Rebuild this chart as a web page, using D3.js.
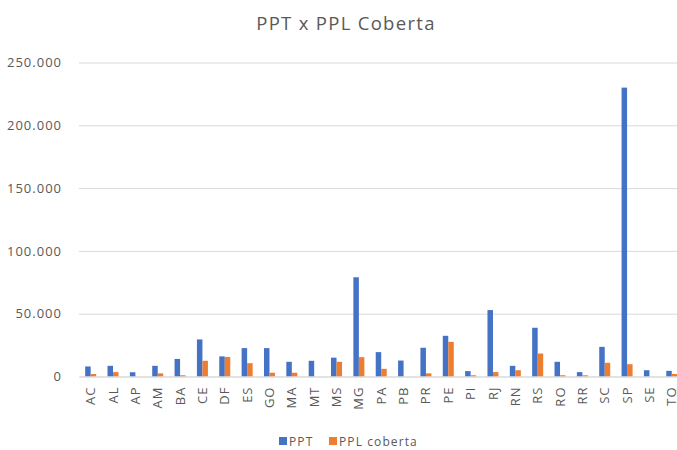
<!DOCTYPE html>
<html><head><meta charset="utf-8">
<script src="https://cdn.jsdelivr.net/npm/d3@7"></script>
<style>html,body{margin:0;padding:0;background:#fff;overflow:hidden}svg{display:block}</style>
</head><body>
<script>
const categories = ["AC","AL","AP","AM","BA","CE","DF","ES","GO","MA","MT","MS","MG","PA","PB","PR","PE","PI","RJ","RN","RS","RO","RR","SC","SP","SE","TO"];
const ppt = [8000,8500,3400,8500,14000,29500,16000,22600,22600,11700,12500,15000,79000,19400,12700,22900,32400,4300,52900,8500,38800,11700,3500,23600,230000,5000,4500];
const pplCoberta = [2000,3500,0,2500,1000,12500,15500,10600,3000,3000,0,11700,15400,6100,0,2500,27600,1000,3500,5000,18300,1000,1000,10900,9800,0,2000];
const seriesNames = ["PPT","PPL coberta"];
const yTicks = [0,50000,100000,150000,200000,250000];
const title = "PPT x PPL Coberta";

const W = 677, H = 450;
const colors = ["#4472C4","#ED7D31"];
const font = "'Open Sans', sans-serif";
const textColor = "#595959";

const svg = d3.select("body").append("svg").attr("width", W).attr("height", H);
const band = 22.35;
const x0 = d3.scaleBand().domain(categories).range([79.5, 79.5 + 27*band]).paddingInner(0).paddingOuter(0);
const x1 = d3.scaleBand().domain(seriesNames).range([x0.bandwidth()/2 - 5.5, x0.bandwidth()/2 + 5.5]);
const y = d3.scaleLinear().domain([0, 250000]).range([376.5, 62.5]);
const loc = d3.formatLocale({decimal:",", thousands:".", grouping:[3], currency:["R$",""]});
const fmt = loc.format(",");

svg.append("text").attr("x", 346).attr("y", 30).attr("text-anchor","middle")
  .attr("font-family", font).attr("font-size", 18.5).attr("letter-spacing", 1.3).attr("fill", textColor).text(title);

// grid
const yAxis = d3.axisLeft(y).tickValues(yTicks).tickSize(-(W - 79)).tickFormat(fmt).tickPadding(17);
const gy = svg.append("g").attr("transform","translate(79,0)").call(yAxis);
gy.select(".domain").remove();
gy.selectAll(".tick line").attr("stroke","#d9d9d9").attr("stroke-width",1);
gy.selectAll(".tick text").attr("font-family", font).attr("font-size", 13).attr("letter-spacing", 1).attr("fill", textColor);

const data = categories.map((c,i)=>({cat:c, vals:[ppt[i], pplCoberta[i]]}));
const g = svg.append("g").selectAll("g").data(data).join("g").attr("transform", d=>`translate(${x0(d.cat)},0)`);
g.selectAll("rect").data(d=>d.vals.map((v,j)=>({name:seriesNames[j], v, j}))).join("rect")
  .attr("x", d=>x1(d.name)).attr("width", x1.bandwidth())
  .attr("y", d=>y(d.v)).attr("height", d=>y(0)-y(d.v)).attr("fill", d=>colors[d.j]);

const xAxis = d3.axisBottom(x0).tickSize(0).tickPadding(6);
const gx = svg.append("g").attr("transform", `translate(0,${y(0)})`).call(xAxis);
gx.select(".domain").attr("stroke","#d9d9d9");
gx.selectAll(".tick text").attr("font-family", font).attr("font-size", 13).attr("letter-spacing", 1).attr("fill", textColor)
  .attr("transform","rotate(-90)").attr("text-anchor","end").attr("dx","-10").attr("dy","0.35em").attr("x",0).attr("y",0);

// legend
const legend = svg.append("g").attr("font-family", font).attr("font-size", 12).attr("letter-spacing", 1.1).attr("fill", textColor);
const lx = [279, 329];
seriesNames.forEach((n,i)=>{
  legend.append("rect").attr("x", lx[i]).attr("y", 437).attr("width", 8).attr("height", 8).attr("fill", colors[i]);
  legend.append("text").attr("x", lx[i]+10).attr("y", 446).attr("fill", textColor).text(n);
});
</script>
</body></html>
